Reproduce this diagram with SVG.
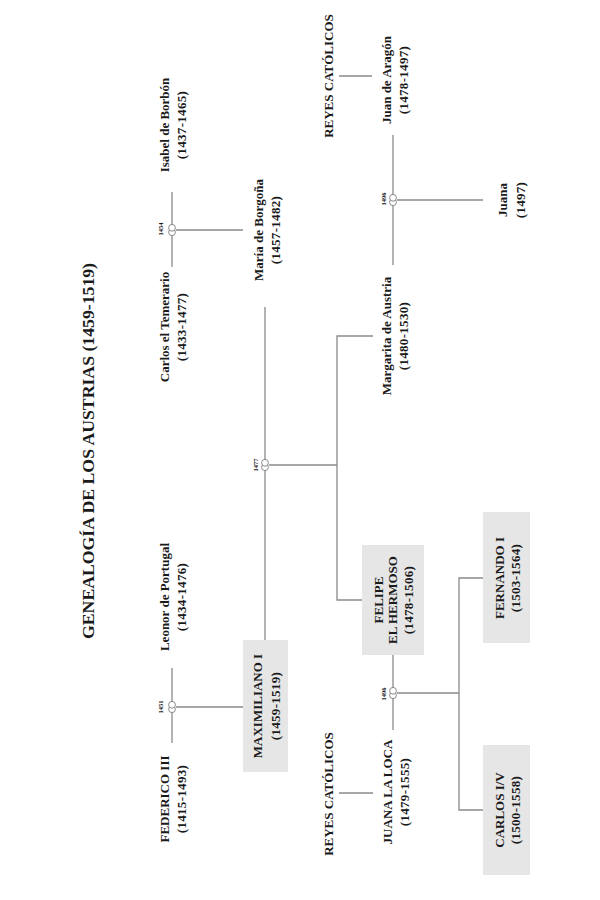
<svg xmlns="http://www.w3.org/2000/svg" xmlns:xlink="http://www.w3.org/1999/xlink" width="600" height="900" viewBox="0 0 600 900">
<style>
text{font-family:"Liberation Serif","Times New Roman",serif;fill:#1a1a1a;text-anchor:middle}
.n{font-size:13px;font-weight:bold}
.d{font-size:13px;font-weight:bold;letter-spacing:0.3px}
.y{font-size:6.5px;font-weight:bold}
.t{font-size:17px;font-weight:bold}
.box{fill:#e6e6e6}
.c line,.c polyline{stroke:#8a8a8a;stroke-width:1.3;fill:none}
.ring{fill:#fff;stroke:#8a8a8a;stroke-width:1}
</style>
<defs>
<g id="rings"><circle class="ring" cx="-2.2" cy="0" r="3.4"/><circle class="ring" cx="2.2" cy="0" r="3.4"/></g>
</defs>
<rect width="600" height="900" fill="#fff"/>
<g transform="translate(0,900) rotate(-90)">
<g id="title"><text class="t" x="449" y="94" textLength="376" lengthAdjust="spacingAndGlyphs">GENEALOGÍA DE LOS AUSTRIAS (1459-1519)</text></g>

<g class="c" id="connectors">
<line x1="157" y1="172" x2="232" y2="172"/>
<line x1="193" y1="176" x2="193" y2="243"/>
<line x1="633" y1="172" x2="708" y2="172"/>
<line x1="670" y1="176" x2="670" y2="243"/>
<line x1="260" y1="265" x2="593" y2="265"/>
<line x1="435" y1="269" x2="435" y2="337"/>
<polyline points="300,362 300,337 564,337 564,373"/>
<line x1="635" y1="393" x2="765" y2="393"/>
<line x1="700" y1="397" x2="700" y2="483"/>
<line x1="824" y1="339" x2="824" y2="372"/>
<line x1="170" y1="393" x2="245" y2="393"/>
<line x1="207" y1="397" x2="207" y2="459"/>
<polyline points="90,483 90,459 322,459 322,483"/>
<line x1="107" y1="339" x2="107" y2="373"/>
<use xlink:href="#rings" x="193" y="172"/>
<use xlink:href="#rings" x="670" y="172"/>
<use xlink:href="#rings" x="435" y="265"/>
<use xlink:href="#rings" x="700" y="393"/>
<use xlink:href="#rings" x="207" y="393"/>
<text class="y" x="193" y="163">1451</text>
<text class="y" x="671" y="163">1454</text>
<text class="y" x="435" y="258">1477</text>
<text class="y" x="701" y="386">1496</text>
<text class="y" x="206" y="386">1496</text>
</g>

<g id="federico"><text class="n" x="101" y="168.5">FEDERICO III</text><text class="d" x="101" y="185.5">(1415-1493)</text></g>
<g id="leonor"><text class="n" x="303" y="168.5">Leonor de Portugal</text><text class="d" x="303" y="185.5">(1434-1476)</text></g>
<g id="carlos-temerario"><text class="n" x="573" y="168.5">Carlos el Temerario</text><text class="d" x="573" y="185.5">(1433-1477)</text></g>
<g id="isabel"><text class="n" x="775" y="168.5">Isabel de Borbón</text><text class="d" x="775" y="185.5">(1437-1465)</text></g>
<g id="maximiliano"><rect class="box" x="128" y="243" width="132" height="45"/><text class="n" x="194" y="261.5">MAXIMILIANO I</text><text class="d" x="194" y="279.5">(1459-1519)</text></g>
<g id="maria"><text class="n" x="670" y="262.5">María de Borgoña</text><text class="d" x="670" y="279.5">(1457-1482)</text></g>
<g id="margarita"><text class="n" x="564" y="390.5">Margarita de Austria</text><text class="d" x="564" y="407.5">(1480-1530)</text></g>
<g id="juan"><text class="n" x="820" y="390.5">Juan de Aragón</text><text class="d" x="820" y="407.5">(1478-1497)</text></g>
<g id="reyes-top"><text class="n" x="824" y="332.5">REYES CATÓLICOS</text></g>
<g id="juana"><text class="n" x="700" y="506.5">Juana</text><text class="d" x="700" y="524.5">(1497)</text></g>
<g id="felipe"><rect class="box" x="245" y="362" width="110" height="62"/><text class="n" x="300" y="382.5">FELIPE</text><text class="n" x="300" y="397">EL HERMOSO</text><text class="d" x="300" y="413">(1478-1506)</text></g>
<g id="juana-loca"><text class="n" x="108" y="391.5">JUANA LA LOCA</text><text class="d" x="108" y="408.5">(1479-1555)</text></g>
<g id="reyes-bottom"><text class="n" x="106" y="332.5">REYES CATÓLICOS</text></g>
<g id="fernando"><rect class="box" x="257" y="483" width="131" height="47"/><text class="n" x="322" y="503.5">FERNANDO I</text><text class="d" x="322" y="519.5">(1503-1564)</text></g>
<g id="carlos-v"><rect class="box" x="25" y="483" width="130" height="47"/><text class="n" x="90" y="503.5">CARLOS I/V</text><text class="d" x="90" y="519.5">(1500-1558)</text></g>
</g>
</svg>
